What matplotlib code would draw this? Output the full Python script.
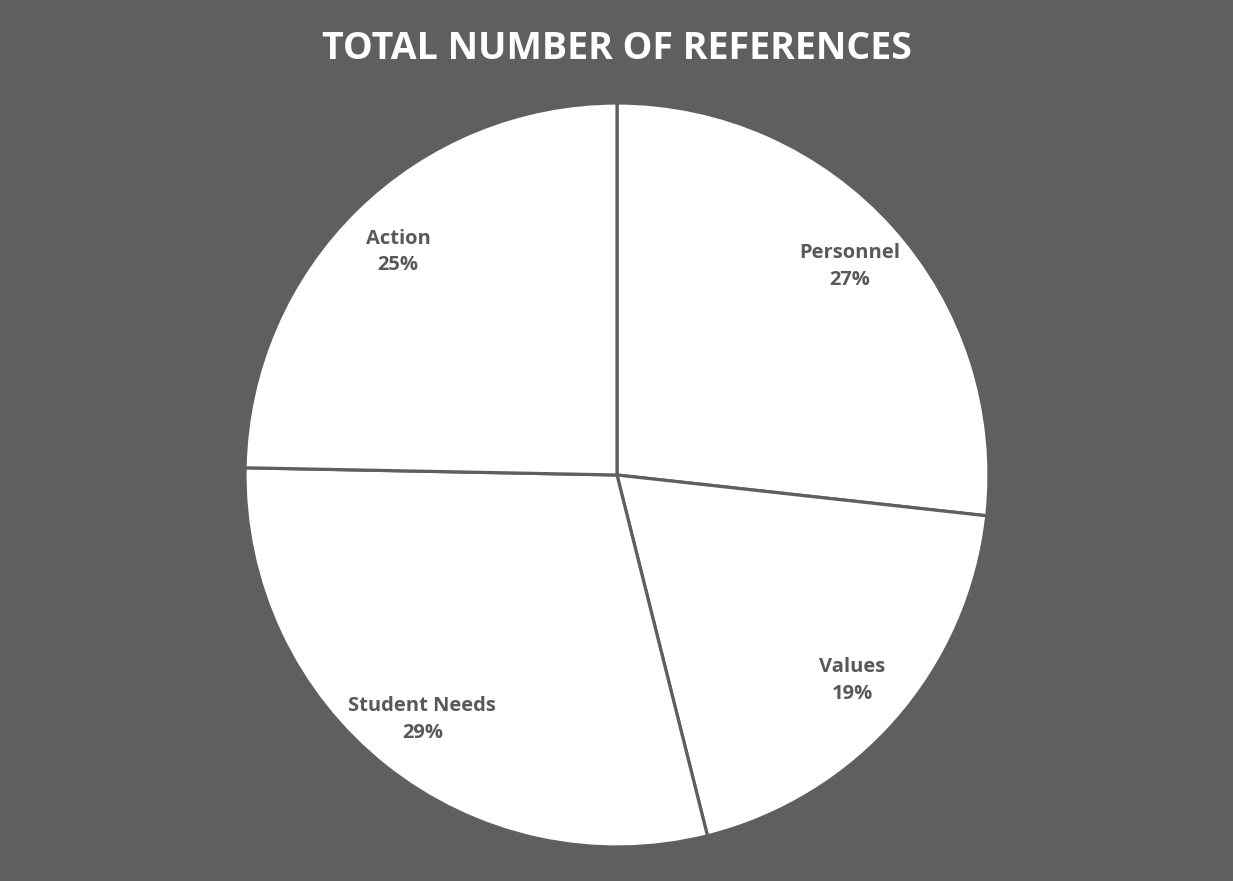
import matplotlib
matplotlib.use("Agg")
import matplotlib.pyplot as plt

categories = ["Personnel", "Values", "Student Needs", "Action"]
values = [65, 47, 71, 60]

bg = "#5f5f5f"
fig = plt.figure(figsize=(12.33, 8.81), dpi=100, facecolor=bg)
W, H = 1233, 881
cx, cy, r = 617, 475, 372
ax = fig.add_axes([(cx - r) / W, (H - cy - r) / H, 2 * r / W, 2 * r / H])
ax.set_facecolor(bg)

labels_iter = iter(categories)


def fmt(p):
    return f"{next(labels_iter)}\n{p:.0f}%"


wedges, texts, autotexts = ax.pie(
    values, startangle=90, counterclock=False, colors=["white"] * 4,
    wedgeprops=dict(edgecolor=bg, linewidth=2.3),
    autopct=fmt, pctdistance=0.84, radius=1.0,
    textprops=dict(color="#595959", fontsize=14.5, fontweight="bold", family="Open Sans", linespacing=1.45),
)
ax.set_xlim(-1.0, 1.0)
ax.set_ylim(-1.0, 1.0)
ax.set_aspect("equal")
ax.axis("off")

fig.text(0.5, (H - 49) / H, "TOTAL NUMBER OF REFERENCES", ha="center", va="center",
         color="white", fontsize=27, fontweight="bold", family="Open Sans")

fig.savefig("out.png", dpi=100, facecolor=bg)
